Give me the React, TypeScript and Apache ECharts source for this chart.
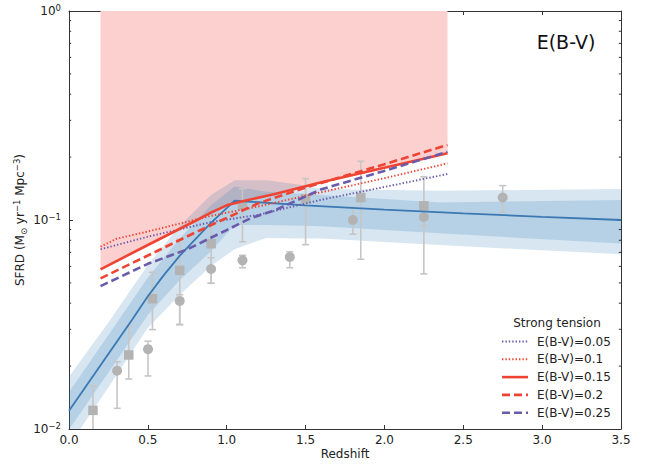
import React, { useEffect, useRef } from 'react';
import * as echarts from 'echarts';

// ---------- data ----------
const X_TICKS = [0, 0.5, 1, 1.5, 2, 2.5, 3, 3.5];
const MINOR_Y_TICKS = [0.02, 0.03, 0.04, 0.05, 0.06, 0.07, 0.08, 0.09, 0.2, 0.3, 0.4, 0.5, 0.6, 0.7, 0.8, 0.9];

// blue median SFRD curve
const blueX = [0, 0.1, 0.2, 0.3, 0.4, 0.5, 0.6, 0.7, 0.8, 0.9, 1.0, 1.05, 1.2, 1.5, 2.0, 2.5, 3.0, 3.5];
const blueY = [0.01222, 0.0157, 0.02018, 0.02594, 0.03334, 0.04315, 0.05433, 0.06714, 0.08072, 0.09683, 0.114, 0.1236, 0.1216, 0.1175, 0.1122, 0.1076, 0.1035, 0.1];

// uncertainty bands
const bandX = [0, 0.25, 0.5, 0.7, 0.9, 1.05, 1.25, 1.5, 1.6, 2.35, 3.5];
const darkTop = [0.01503, 0.02818, 0.05309, 0.08128, 0.1175, 0.1445, 0.1365, 0.1334, 0.1318, 0.1211, 0.1247];
const darkBot = [0.00993, 0.01862, 0.03508, 0.05129, 0.07079, 0.09462, 0.09462, 0.09376, 0.09333, 0.0863, 0.07727];
const lightTop = [0.01778, 0.03236, 0.06095, 0.09333, 0.1318, 0.1549, 0.1549, 0.1462, 0.1406, 0.138, 0.1406];
const lightBot = [0.00832, 0.01585, 0.03055, 0.04365, 0.06026, 0.07244, 0.08204, 0.08166, 0.08166, 0.07586, 0.06855];

// strong tension curves
const ebv015X = [0.2, 0.5, 0.8, 0.9, 1.0, 1.1, 1.3, 1.6, 2.0, 2.4];
const ebv015Y = [0.0581, 0.0759, 0.0989, 0.1084, 0.1175, 0.123, 0.1327, 0.1514, 0.1778, 0.2084];
const ebv02X = [0.2, 0.5, 0.8, 1.0, 1.2, 1.5, 2.0, 2.4];
const ebv02Y = [0.0526, 0.0676, 0.0871, 0.1023, 0.1202, 0.1429, 0.1849, 0.2286];
const ebv025X = [0.2, 0.5, 0.75, 1.0, 1.15, 1.3, 1.6, 2.0, 2.4];
const ebv025Y = [0.0483, 0.0617, 0.0724, 0.0895, 0.1019, 0.1109, 0.1403, 0.1718, 0.2123];
const ebv01X = [0.2, 0.3, 0.5, 0.9, 1.2, 1.6, 2.0, 2.4];
const ebv01Y = [0.0745, 0.0813, 0.0881, 0.1047, 0.1161, 0.1358, 0.1585, 0.1866];
const ebv005X = [0.2, 0.5, 0.9, 1.2, 1.6, 2.0, 2.4];
const ebv005Y = [0.0724, 0.0832, 0.0977, 0.1059, 0.125, 0.1439, 0.166];

// observational points
const sqX = [0.152, 0.379, 0.529, 0.702, 0.901, 1.1, 1.5, 1.85, 2.25];
const sqY = [0.01228, 0.0226, 0.042, 0.0574, 0.077, 0.1175, 0.1265, 0.128, 0.117];
const sqLo = [0.0075, 0.01734, 0.0299, 0.0317, 0.0498, 0.0787, 0.0762, 0.0649, 0.0552];
const sqHi = [0.0161, 0.0312, 0.0562, 0.0809, 0.095, 0.141, 0.1577, 0.191, 0.161];
const ciX = [0.305, 0.501, 0.702, 0.901, 1.1, 1.4, 1.8, 2.25, 2.75];
const ciY = [0.019, 0.0241, 0.041, 0.0583, 0.0641, 0.0665, 0.1, 0.1034, 0.128];
const ciLo = [0.01256, 0.01794, 0.0315, 0.0498, 0.0591, 0.0591, 0.0855, 0.0936, 0.109];
const ciHi = [0.021, 0.0263, 0.0439, 0.066, 0.0678, 0.0705, 0.115, 0.112, 0.146];

const LEGEND_TITLE = 'Strong tension';
const LEGEND_LABELS = ['E(B-V)=0.05', 'E(B-V)=0.1', 'E(B-V)=0.15', 'E(B-V)=0.2', 'E(B-V)=0.25'];

// ---------- styles ----------
const FONT = 'DejaVu Sans';
const RED = '#ef4433';
const PURPLE = '#6a5bab';
const BLUE = '#3a79b3';
const BAND = 'rgba(31,119,180,0.18)';
const PINK = '#fcd0ce';
const GREY_MARK = '#b3b3b3';
const GREY_BAR = '#c6c6c6';
const AXIS = '#333333';

const DASH = [8, 4];
const DOT = [1.4, 2.0];
const DOT_W = 1.9;

const legendStyles = [
  { color: PURPLE, width: DOT_W, dash: DOT },
  { color: RED, width: DOT_W, dash: DOT },
  { color: RED, width: 2.6, dash: null },
  { color: RED, width: 2.6, dash: DASH },
  { color: PURPLE, width: 2.6, dash: DASH },
];

const zip = (xs: number[], ys: number[]) => xs.map((x, i) => [x, ys[i]]);

function bandSeries(xs: number[], up: number[], lo: number[], fill: string, z: number) {
  return {
    type: 'custom',
    coordinateSystem: 'cartesian2d',
    clip: true,
    silent: true,
    z,
    data: xs.map((x, i) => [x, lo[i], up[i]]),
    encode: { x: 0, y: [1, 2] },
    renderItem: (params: any, api: any) => {
      if (params.dataIndex !== 0) return null;
      const pts: number[][] = [];
      for (let i = 0; i < xs.length; i++) pts.push(api.coord([xs[i], up[i]]));
      for (let i = xs.length - 1; i >= 0; i--) pts.push(api.coord([xs[i], lo[i]]));
      return { type: 'polygon', shape: { points: pts }, style: { fill } };
    },
  };
}

function errorSeries(xs: number[], lo: number[], hi: number[]) {
  return {
    type: 'custom',
    coordinateSystem: 'cartesian2d',
    clip: true,
    silent: true,
    z: 3,
    data: xs.map((x, i) => [x, lo[i], hi[i]]),
    encode: { x: 0, y: [1, 2] },
    renderItem: (params: any, api: any) => {
      const x = api.value(0);
      const top = api.coord([x, api.value(2)]);
      const bot = api.coord([x, api.value(1)]);
      const st = { stroke: GREY_BAR, lineWidth: 1.6 };
      return {
        type: 'group',
        children: [
          { type: 'line', shape: { x1: top[0], y1: top[1], x2: bot[0], y2: bot[1] }, style: st },
          { type: 'line', shape: { x1: top[0] - 3.5, y1: top[1], x2: top[0] + 3.5, y2: top[1] }, style: st },
          { type: 'line', shape: { x1: bot[0] - 3.5, y1: bot[1], x2: bot[0] + 3.5, y2: bot[1] }, style: st },
        ],
      };
    },
  };
}

function lineSeries(name: string, xs: number[], ys: number[], color: string, width: number, dash: any, z: number) {
  return {
    name,
    type: 'line',
    data: zip(xs, ys),
    showSymbol: false,
    symbol: 'none',
    silent: true,
    z,
    lineStyle: { color, width, type: dash || 'solid', cap: 'butt' },
  };
}

const supLabel = (v: number) => {
  const e = Math.round(Math.log10(v));
  const s = e < 0 ? '\u2212' + Math.abs(e) : String(e);
  return '{b|10}{s|' + s + '}';
};

export default function App() {
  const ref = useRef<HTMLDivElement>(null);
  useEffect(() => {
    if (!ref.current) return;
    const chart = echarts.init(ref.current, undefined, { renderer: 'svg' });

    const axisCommon = {
      axisLine: { show: true, onZero: false, lineStyle: { color: AXIS, width: 1 } },
      axisTick: { show: true, inside: true, length: 4, lineStyle: { color: AXIS, width: 1 } },
      splitLine: { show: false },
    };

    const legendGraphics: any[] = [];
    const rowY0 = 341.5;
    const rowStep = 17.8;
    LEGEND_LABELS.forEach((lab, i) => {
      const y = rowY0 + i * rowStep;
      const st = legendStyles[i];
      legendGraphics.push({
        type: 'line',
        shape: { x1: 502, y1: y, x2: 528, y2: y },
        style: { stroke: st.color, lineWidth: st.width, lineDash: st.dash || undefined, lineCap: 'butt' },
        z: 100,
      });
      legendGraphics.push({
        type: 'text',
        x: 537,
        y,
        style: { text: lab, fill: '#222', font: `12px "${FONT}"`, textAlign: 'left', textVerticalAlign: 'middle' },
        z: 100,
      });
    });

    const option: any = {
      animation: false,
      textStyle: { fontFamily: FONT },
      grid: { left: 69, right: 26, top: 11, bottom: 37, containLabel: false },
      xAxis: [
        {
          type: 'value',
          min: X_TICKS[0],
          max: X_TICKS[X_TICKS.length - 1],
          interval: 0.5,
          position: 'bottom',
          ...axisCommon,
          axisLabel: { formatter: (v: number) => v.toFixed(1), color: '#222', fontSize: 12, margin: 5, fontFamily: FONT },
          name: 'Redshift',
          nameLocation: 'middle',
          nameGap: 19,
          nameMoveOverlap: false,
          nameTextStyle: { fontSize: 12, color: '#222', fontFamily: FONT },
        },
        {
          type: 'value',
          min: X_TICKS[0],
          max: X_TICKS[X_TICKS.length - 1],
          interval: 0.5,
          position: 'top',
          ...axisCommon,
          axisLabel: { show: false },
        },
      ],
      yAxis: [
        {
          type: 'log',
          logBase: 10,
          min: 0.01,
          max: 1,
          position: 'left',
          ...axisCommon,
          axisLabel: {
            formatter: supLabel,
            margin: 8,
            rich: {
              b: { fontSize: 12, color: '#222', fontFamily: FONT, lineHeight: 16 },
              s: { fontSize: 8.5, color: '#222', fontFamily: FONT, verticalAlign: 'top', lineHeight: 10 },
            },
          },
          name: 'SFRD (M{sub|\u2299} yr{sup|\u22121} Mpc{sup|\u22123})',
          nameLocation: 'middle',
          nameGap: 41,
          nameMoveOverlap: false,
          nameTextStyle: {
            fontSize: 12,
            color: '#222',
            fontFamily: FONT,
            lineHeight: 16,
            rich: {
              sub: { fontSize: 8.5, color: '#222', fontFamily: FONT, verticalAlign: 'bottom', lineHeight: 10 },
              sup: { fontSize: 8.5, color: '#222', fontFamily: FONT, verticalAlign: 'top', lineHeight: 10 },
            },
          },
        },
        {
          type: 'log',
          logBase: 10,
          min: 0.01,
          max: 1,
          position: 'right',
          ...axisCommon,
          axisLabel: { show: false },
        },
      ],
      graphic: [
        {
          type: 'text',
          x: 566,
          y: 42,
          style: { text: 'E(B-V)', fill: '#111', font: `19px "${FONT}"`, textAlign: 'center', textVerticalAlign: 'middle' },
          z: 100,
        },
        {
          type: 'text',
          x: 557,
          y: 323,
          style: { text: LEGEND_TITLE, fill: '#222', font: `12px "${FONT}"`, textAlign: 'center', textVerticalAlign: 'middle' },
          z: 100,
        },
        ...legendGraphics,
      ],
      series: [
        bandSeries(ebv015X, ebv015X.map(() => 1), ebv015Y, PINK, 1),
        bandSeries(bandX, lightTop, lightBot, BAND, 2),
        bandSeries(bandX, darkTop, darkBot, BAND, 2),
        errorSeries(sqX, sqLo, sqHi),
        errorSeries(ciX, ciLo, ciHi),
        {
          type: 'scatter',
          data: zip(sqX, sqY),
          symbol: 'rect',
          symbolSize: 9.5,
          itemStyle: { color: GREY_MARK, opacity: 1 },
          silent: true,
          z: 4,
          clip: true,
        },
        {
          type: 'scatter',
          data: zip(ciX, ciY),
          symbol: 'circle',
          symbolSize: 10,
          itemStyle: { color: GREY_MARK, opacity: 1 },
          silent: true,
          z: 4,
          clip: true,
        },
        lineSeries('median', blueX, blueY, BLUE, 1.8, null, 5),
        lineSeries(LEGEND_LABELS[0], ebv005X, ebv005Y, PURPLE, DOT_W, DOT, 6),
        lineSeries(LEGEND_LABELS[1], ebv01X, ebv01Y, RED, DOT_W, DOT, 6),
        lineSeries(LEGEND_LABELS[2], ebv015X, ebv015Y, RED, 2.6, null, 6),
        lineSeries(LEGEND_LABELS[3], ebv02X, ebv02Y, RED, 2.6, DASH, 6),
        lineSeries(LEGEND_LABELS[4], ebv025X, ebv025Y, PURPLE, 2.6, DASH, 6),
        {
          type: 'custom',
          coordinateSystem: 'cartesian2d',
          silent: true,
          z: 10,
          data: MINOR_Y_TICKS.map((v) => [0, v]),
          encode: { x: 0, y: 1 },
          renderItem: (params: any, api: any) => {
            const v = api.value(1);
            const l = api.coord([X_TICKS[0], v]);
            const r = api.coord([X_TICKS[X_TICKS.length - 1], v]);
            const st = { stroke: AXIS, lineWidth: 1 };
            return {
              type: 'group',
              children: [
                { type: 'line', shape: { x1: l[0], y1: l[1], x2: l[0] + 2.2, y2: l[1] }, style: st },
                { type: 'line', shape: { x1: r[0] - 2.2, y1: r[1], x2: r[0], y2: r[1] }, style: st },
              ],
            };
          },
        },
      ],
    };

    chart.setOption(option);
    return () => {
      chart.dispose();
    };
  }, []);

  return (
    <div
      ref={ref}
      style={{ position: 'fixed', left: 0, top: 0, width: 647, height: 466, background: '#fff' }}
    />
  );
}
